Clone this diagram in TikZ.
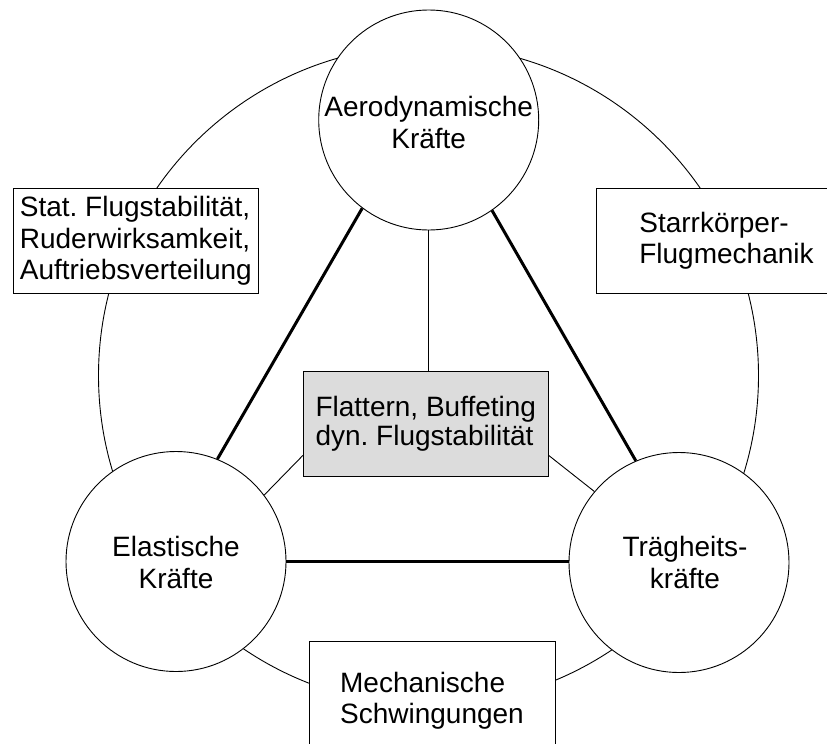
\documentclass[tikz,border=0pt]{standalone}
\usepackage{fontspec}
\setmainfont{Liberation Sans}
\definecolor{boxgray}{RGB}{220,220,220}
\begin{document}
\frenchspacing
\begin{tikzpicture}[x=1pt,y=-1pt,
  thinline/.style={line width=0.9pt},
  thickline/.style={line width=3pt},
  txtfont/.style={font=\fontsize{28pt}{31.5pt}\selectfont},
  circ/.style={circle,draw,thinline,fill=white,minimum size=220pt,inner sep=0pt,align=center,txtfont},
  txtonly/.style={inner sep=0pt,align=center,txtfont},
  box/.style={rectangle,draw,thinline,fill=white,minimum width=245pt,minimum height=105pt,inner sep=0pt,align=left,txtfont},
  graybox/.style={box,fill=boxgray,font=\fontsize{28pt}{29pt}\selectfont}]
\clip (0,0) rectangle (827,744);
% outer ring
\draw[thinline] (428.5,375.5) circle[radius=330pt];
% circles
\node[circ] (T) at (428.7,120) {};
\node[txtonly] (Tt) at ([yshift=-2.5pt]T.center) {Aerodynamische\\Kräfte};
\node[circ] (L) at (176,561.5) {};
\node[txtonly] (Lt) at ([yshift=-1pt]L.center) {Elastische\\Kräfte};
\node[circ] (R) at (679,562.5) {};
\node[txtonly] (Rt) at ([xshift=6pt]R.center) {Trägheits-\\kräfte};
% boxes
\node[graybox] (C) at (425.8,423.5) {Flattern, Buffeting\\dyn. Flugstabilität};
\node[box] (LB) at (135.8,240.8) {Stat. Flugstabilität,\\Ruderwirksamkeit,\\Auftriebsverteilung};
\node[box,minimum width=261pt] (RB) at (726.5,240.8) {Starrkörper-\\Flugmechanik};
\node[box,minimum width=246pt,minimum height=118pt] (BB) at (432,700.6) {Mechanische\\Schwingungen};
% thick triangle
\draw[thickline] (T.-127.9) -- (L.68.7);
\draw[thickline] (T.-55) -- (R.113.7);
\draw[thickline] (L.east) -- (L.east -| R.west);
% thin connectors to centre box
\draw[thinline] (T.south) -- (T.south |- C.north);
\draw[thinline] ([yshift=21pt]C.south west) -- (L.37.8);
\draw[thinline] ([yshift=21pt]C.south east) -- (R.140.6);
\end{tikzpicture}
\end{document}
